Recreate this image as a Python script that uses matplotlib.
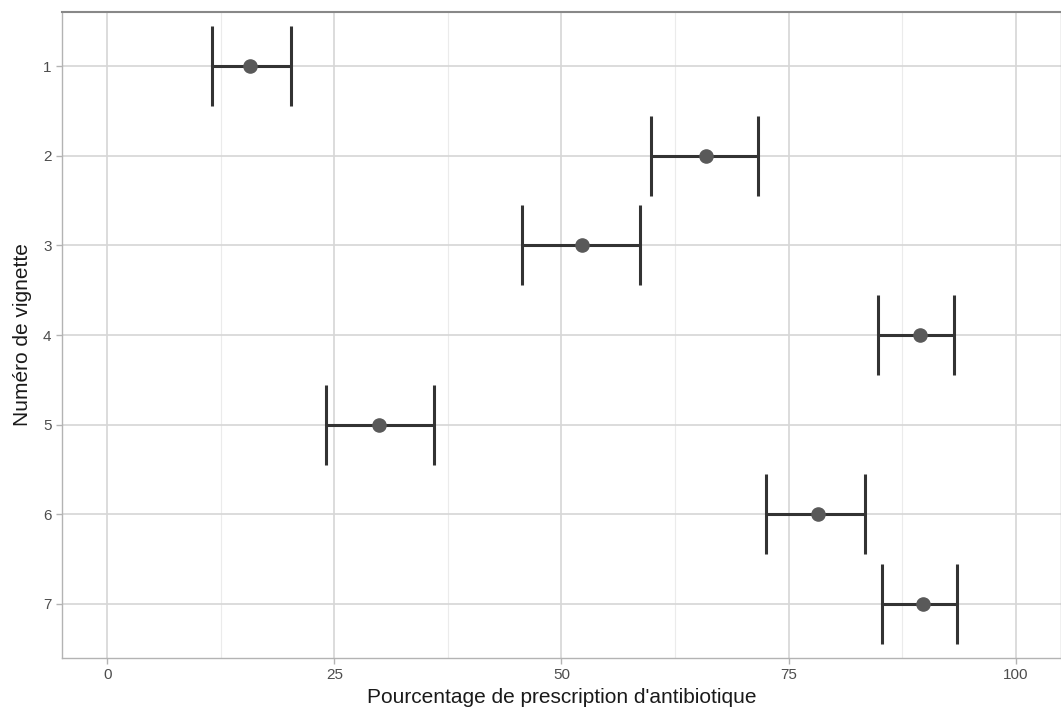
import numpy as np
import matplotlib.pyplot as plt

# prescription percentage per vignette, with confidence bounds
vignettes = ["1", "2", "3", "4", "5", "6", "7"]
pct = [15.7, 65.9, 52.3, 89.5, 29.9, 78.2, 89.8]
low = [11.5, 59.9, 45.7, 84.8, 24.1, 72.5, 85.3]
high = [20.2, 71.6, 58.6, 93.2, 36.0, 83.4, 93.5]

plt.rcParams["font.family"] = ["Liberation Sans", "DejaVu Sans"]

fig = plt.figure(figsize=(10.61, 7.22), dpi=100)
ax = fig.add_axes([0.0584, 0.089, 0.9416, 0.894])

ypos = np.arange(1, len(vignettes) + 1)
pct = np.array(pct)
xerr = [pct - np.array(low), np.array(high) - pct]

# grid: major and minor lines, light theme
for v in np.arange(0, 101, 25):
    ax.axvline(v, color="#d6d6d6", lw=1.2, zorder=0)
for v in np.arange(12.5, 101, 25):
    ax.axvline(v, color="#ebebeb", lw=0.8, zorder=0)
for y in ypos:
    ax.axhline(y, color="#d6d6d6", lw=1.2, zorder=0)

ax.errorbar(pct, ypos, xerr=xerr, fmt="none", ecolor="#333333",
            elinewidth=2.2, capsize=29, capthick=2.2, zorder=2)
ax.scatter(pct, ypos, s=90, color="#595959", zorder=3)

ax.set_xlim(-5, 105)
ax.set_ylim(7.6, 0.4)
ax.set_xticks([0, 25, 50, 75, 100])
ax.set_yticks(ypos)
ax.set_yticklabels(vignettes)

for side in ["left", "right", "bottom"]:
    ax.spines[side].set_color("#b3b3b3")
    ax.spines[side].set_linewidth(1.0)
ax.spines["top"].set_color("#888888")
ax.spines["top"].set_linewidth(1.5)

ax.tick_params(axis="both", colors="#b3b3b3", labelcolor="#4d4d4d",
               labelsize=11, length=4, width=1)
ax.set_xlabel("Pourcentage de prescription d'antibiotique", fontsize=15,
              color="#1a1a1a", labelpad=4)
ax.set_ylabel("Numéro de vignette", fontsize=15, color="#1a1a1a", labelpad=8)

fig.savefig("out.png", dpi=100)
